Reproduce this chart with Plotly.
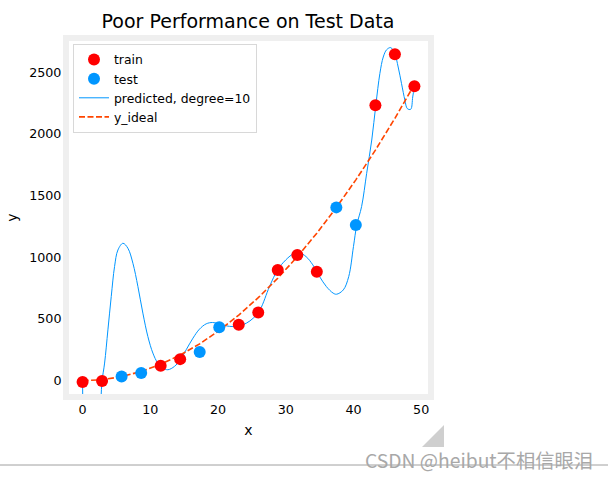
import plotly.graph_objects as go

# training / test samples
x_train = [0.0, 2.88, 11.53, 14.41, 23.06, 25.94, 28.82, 31.71, 34.59, 43.24, 46.12, 49.0]
y_train = [-10, -3, 121, 175, 453, 553, 898, 1019, 884, 2233, 2646, 2387]

x_test = [5.76, 8.65, 17.29, 20.18, 37.47, 40.35]
y_test = [35, 62, 232, 434, 1405, 1262]

# ideal curve
x_ideal = [0.0, 2.88, 5.76, 8.65, 11.53, 14.41, 17.29, 20.18, 23.06, 25.94,
           28.82, 31.71, 34.59, 37.47, 40.35, 43.24, 46.12, 49.0]
y_ideal = [0, 8, 33, 75, 133, 208, 299, 407, 532, 673,
           831, 1005, 1196, 1404, 1628, 1869, 2127, 2401]

# degree 10 fit
x_pred = [0.0, 0.05, 0.5, 1.4, 2.3, 2.6, 2.72, 2.88, 3.25, 3.74, 4.23, 4.72, 5.22, 5.96,
          6.69, 7.43, 8.17, 8.9, 9.64, 10.38, 11.1, 11.85, 12.59, 13.57, 14.4, 15.3,
          16.3, 17.26, 18.25, 19.2, 20.2, 21.2, 22.2, 23.2, 24.2, 25.2, 26.2, 27.6,
          28.8, 30.0, 31.25, 32.0, 33.0, 34.0, 35.0, 36.0, 37.0, 37.5, 38.5, 39.3,
          40.0, 40.5, 41.2, 41.95, 42.7, 43.3, 43.9, 44.4, 44.9, 45.5, 46.1, 46.6,
          47.1, 47.6, 47.95, 48.45, 48.75, 49.0]
y_pred = [0, -300, -1500, -2500, -1500, -450, -150, 0, 143, 412, 682, 925, 1060, 1114,
          1074, 952, 763, 548, 358, 224, 143, 103, 89, 116, 165, 251,
          345, 418, 461, 472, 461, 445, 439, 445, 467, 507, 575, 763,
          898, 979, 1033, 1038, 1006, 939, 844, 763, 710, 701, 736, 844,
          1087, 1265, 1411, 1681, 1951, 2233, 2490, 2624, 2683, 2700, 2651, 2543,
          2408, 2273, 2206, 2200, 2300, 2390]

FONT = "DejaVu Sans"
BLUE = "#0096ff"

fig = go.Figure()
fig.add_trace(go.Scatter(x=x_pred, y=y_pred, mode="lines", name="predicted, degree=10",
                         line=dict(color=BLUE, width=1, shape="spline"), legendrank=3))
fig.add_trace(go.Scatter(x=x_ideal, y=y_ideal, mode="lines", name="y_ideal",
                         line=dict(color="orangered", width=1.6, dash="6px,2.5px"), legendrank=4))
fig.add_trace(go.Scatter(x=x_train, y=y_train, mode="markers", name="train",
                         marker=dict(color="red", size=12), legendrank=1))
fig.add_trace(go.Scatter(x=x_test, y=y_test, mode="markers", name="test",
                         marker=dict(color=BLUE, size=12), legendrank=2))

# pixel -> paper helpers for the decorations
L, R, T, B = 66, 431, 38, 397
def px(x):
    return (x - L) / (R - L)
def py(y):
    return (B - y) / (B - T)

shapes = [
    dict(type="rect", xref="paper", yref="paper", x0=0, x1=1, y0=0, y1=1,
         line=dict(color="#efefef", width=6), layer="above"),
    dict(type="path", xref="paper", yref="paper",
         path=f"M {px(422)} {py(447)} L {px(444)} {py(425)} L {px(444)} {py(447)} Z",
         fillcolor="#cfcfcf", line=dict(width=0)),
    dict(type="line", xref="paper", yref="paper", x0=px(0), x1=px(608), y0=py(465), y1=py(465),
         line=dict(color="#a0a0a0", width=1)),
]

fig.update_layout(
    width=608, height=479,
    margin=dict(l=L, r=608 - R, t=T, b=479 - B, autoexpand=False),
    paper_bgcolor="white", plot_bgcolor="white",
    font=dict(family=FONT, size=12.7, color="black"),
    title=dict(text="Poor Performance on Test Data", x=px(248), xref="paper", xanchor="center",
               y=1 - 21 / 479, yref="container", yanchor="middle",
               font=dict(size=19, family=FONT)),
    xaxis=dict(range=[-2.45, 51.45], tickvals=[0, 10, 20, 30, 40, 50], showgrid=False,
               zeroline=False, ticks="outside", ticklen=1, tickcolor="rgba(0,0,0,0)",
               automargin=False, title=dict(text="x", font=dict(size=14), standoff=8)),
    yaxis=dict(range=[-132, 2778], tickvals=[0, 500, 1000, 1500, 2000, 2500], showgrid=False,
               zeroline=False, ticks="outside", ticklen=1, tickcolor="rgba(0,0,0,0)",
               automargin=False, title=dict(text="y", font=dict(size=14), standoff=8)),
    legend=dict(x=px(73), y=py(44), xanchor="left", yanchor="top",
                bordercolor="#d8d8d8", borderwidth=1, bgcolor="rgba(255,255,255,0.8)",
                font=dict(size=12.4), tracegroupgap=0),
    shapes=shapes,
    annotations=[dict(text="CSDN @heibut不相信眼泪", xref="paper", yref="paper",
                      x=px(595), y=py(460), xanchor="right", yanchor="middle", showarrow=False,
                      font=dict(family="Noto Sans CJK SC", size=19.3, color="#a8a8a8"))],
)

fig.write_html("out.html", config={"displayModeBar": False},
               post_script="document.body.style.margin='0';")
